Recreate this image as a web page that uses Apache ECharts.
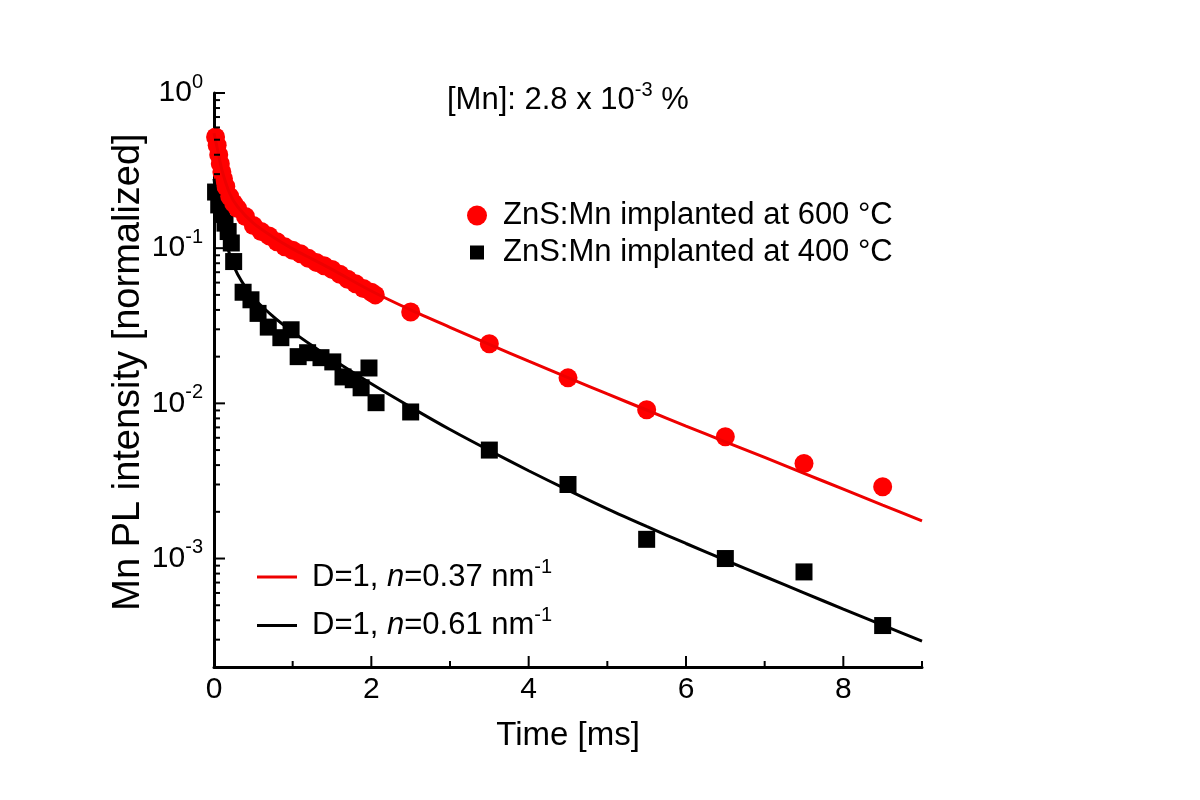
<!DOCTYPE html>
<html>
<head>
<meta charset="utf-8">
<script src="https://cdn.jsdelivr.net/npm/echarts/dist/echarts.min.js"></script>
<style>html,body{margin:0;padding:0;background:#fff}#c{width:1200px;height:800px}</style>
</head>
<body>
<div id="c"></div>
<script>
// ---- data ----
const redT = [0.02, 0.04, 0.06, 0.08, 0.10, 0.12, 0.15, 0.20, 0.25, 0.30, 0.40, 0.50, 0.60, 0.70, 0.80, 0.90, 1.00, 1.10, 1.20, 1.30, 1.40, 1.50, 1.60, 1.70, 1.80, 1.90, 2.00, 2.05, 2.5, 3.5, 4.5, 5.5, 6.5, 7.5, 8.5];
const redV = [0.52, 0.46, 0.40, 0.35, 0.31, 0.28, 0.25, 0.215, 0.195, 0.18, 0.16, 0.14, 0.128, 0.12, 0.11, 0.102, 0.097, 0.092, 0.086, 0.081, 0.077, 0.073, 0.068, 0.063, 0.059, 0.055, 0.052, 0.050, 0.0388, 0.0242, 0.0146, 0.0091, 0.0061, 0.0041, 0.0029];

const blackT = [0.02, 0.06, 0.10, 0.14, 0.18, 0.22, 0.25, 0.37, 0.47, 0.56, 0.69, 0.85, 0.98, 1.07, 1.19, 1.36, 1.51, 1.64, 1.77, 1.87, 1.97, 2.06, 2.5, 3.5, 4.5, 5.5, 6.5, 7.5, 8.5];
const blackV = [0.23, 0.19, 0.165, 0.145, 0.128, 0.108, 0.082, 0.052, 0.0465, 0.038, 0.031, 0.0265, 0.0298, 0.020, 0.0212, 0.0197, 0.0185, 0.0148, 0.0142, 0.0126, 0.0169, 0.0101, 0.0088, 0.0050, 0.0030, 0.00133, 0.0010, 0.00082, 0.00037];

const fitT = [0, 0.05, 0.1, 0.2, 0.3, 0.5, 0.75, 1, 1.25, 1.5, 2, 2.5, 3, 3.5, 4, 4.5, 5, 5.5, 6, 6.5, 7, 7.5, 8, 8.5, 9];
const redFit = [0.55, 0.42, 0.32, 0.225, 0.185, 0.145, 0.118, 0.099, 0.085, 0.073, 0.053, 0.040, 0.0309, 0.0240, 0.0187, 0.01466, 0.0115, 0.00906, 0.00714, 0.00565, 0.00448, 0.00354, 0.0028, 0.00221, 0.00175];
const blackFit = [0.28, 0.178, 0.135, 0.091, 0.068, 0.048, 0.0364, 0.0289, 0.0235, 0.0193, 0.01337, 0.00946, 0.00678, 0.00497, 0.00368, 0.00276, 0.00209, 0.00161, 0.00125, 0.000975, 0.000766, 0.000601, 0.000472, 0.000372, 0.000294];

const xMajorTicks = [0, 2, 4, 6, 8];
const xMinorTicks = [1, 3, 5, 7, 9];
const yMajorTicks = [0.001, 0.01, 0.1, 1];
const yMinorTicks = [0.0003, 0.0004, 0.0005, 0.0006, 0.0007, 0.0008, 0.0009,
  0.002, 0.003, 0.004, 0.005, 0.006, 0.007, 0.008, 0.009,
  0.02, 0.03, 0.04, 0.05, 0.06, 0.07, 0.08, 0.09,
  0.2, 0.3, 0.4, 0.5, 0.6, 0.7, 0.8, 0.9];

const nameRed = 'ZnS:Mn implanted at 600 °C';
const nameBlack = 'ZnS:Mn implanted at 400 °C';
const nameFitRed = 'D=1, n=0.37 nm-1';
const nameFitBlack = 'D=1, n=0.61 nm-1';

// ---- chart ----
const FONT = '"Liberation Sans", Arial, Helvetica, sans-serif';
const X_MIN = 0, X_MAX = 9, Y_MIN = 0.0002, Y_MAX = 1;

function zip(a, b) { return a.map((v, i) => [v, b[i]]); }

function tickSeries(vals, dir, len) {
  return {
    type: 'custom', silent: true, clip: false, z: 10,
    data: vals.map(v => dir === 'y' ? [X_MIN, v] : [v, Y_MIN]),
    renderItem: function (params, api) {
      const p = api.coord([api.value(0), api.value(1)]);
      const x2 = dir === 'y' ? p[0] + len : p[0];
      const y2 = dir === 'y' ? p[1] : p[1] - len;
      return { type: 'line', shape: { x1: p[0], y1: p[1], x2: x2, y2: y2 }, style: { stroke: '#000', lineWidth: 2 } };
    }
  };
}

const supRich = {
  a: { fontSize: 31, fontFamily: FONT, color: '#000', fontWeight: 'normal' },
  i: { fontSize: 31, fontFamily: FONT, color: '#000', fontStyle: 'italic', fontWeight: 'normal' },
  s: { fontSize: 20, fontFamily: FONT, color: '#000', fontWeight: 'normal', padding: [0, 0, 20, 0] }
};

const legendRich = {
  t: { fontSize: 31, fontFamily: FONT, color: '#000', padding: [0, 0, 0, 11] }
};
const fitRich = Object.assign({}, supRich, {
  a0: { fontSize: 31, fontFamily: FONT, color: '#000', fontWeight: 'normal', padding: [0, 0, 0, 10] }
});

const chart = echarts.init(document.getElementById('c'), null, { renderer: 'canvas' });
chart.setOption({
  backgroundColor: '#fff',
  animation: false,
  title: {
    text: '{a|[Mn]: 2.8 x 10}{s|-3}{a| %}',
    left: 447, top: 80, padding: 0,
    textStyle: { fontWeight: 'normal', rich: supRich }
  },
  grid: { left: 214, right: 278, top: 93, bottom: 133 },
  xAxis: {
    type: 'value', min: X_MIN, max: X_MAX, interval: 2,
    axisLine: { lineStyle: { color: '#000', width: 3 } },
    axisTick: { show: false },
    splitLine: { show: false },
    axisLabel: {
      color: '#000', fontSize: 30, fontFamily: FONT, margin: 8,
      formatter: v => (v % 2 === 0 ? String(v) : '')
    },
    name: 'Time [ms]', nameLocation: 'middle', nameGap: 52,
    nameTextStyle: { color: '#000', fontSize: 33, fontFamily: FONT }
  },
  yAxis: {
    type: 'log', logBase: 10, min: Y_MIN, max: Y_MAX,
    axisLine: { lineStyle: { color: '#000', width: 3 } },
    axisTick: { show: false },
    splitLine: { show: false },
    axisLabel: {
      margin: 11,
      formatter: function (v) {
        const e = Math.log10(v);
        const r = Math.round(e);
        if (Math.abs(e - r) > 1e-6) return '';
        return '{b|10}{s|' + r + '}';
      },
      rich: {
        b: { fontSize: 30, fontFamily: FONT, color: '#000' },
        s: { fontSize: 20, fontFamily: FONT, color: '#000', padding: [0, 0, 22, 0] }
      }
    }
  },
  legend: [
    {
      orient: 'vertical', left: 467, top: 200, padding: 0,
      itemWidth: 20, itemHeight: 20, itemGap: 6,
      data: [
        { name: nameRed, icon: 'circle' },
        { name: nameBlack, icon: 'path://M0,0L0,0ZM20,20L20,20ZM3,3L17,3L17,17L3,17Z' }
      ],
      formatter: n => '{t|' + n + '}',
      textStyle: { rich: legendRich }
    },
    {
      orient: 'vertical', left: 257, top: 557, padding: 0,
      itemWidth: 40, itemHeight: 3, itemGap: 13,
      data: [
        { name: nameFitRed, icon: 'rect' },
        { name: nameFitBlack, icon: 'rect' }
      ],
      formatter: function (n) {
        const val = n === nameFitRed ? '0.37' : '0.61';
        return '{a0|D=1, }{i|n}{a|=' + val + ' nm}{s|-1}';
      },
      textStyle: { rich: fitRich }
    }
  ],
  graphic: [
    {
      type: 'text', x: 129, y: 372, rotation: Math.PI / 2,
      style: {
        text: 'Mn PL intensity [normalized]', fill: '#000',
        font: '38px ' + FONT,
        textAlign: 'center', textVerticalAlign: 'middle',
        align: 'center', verticalAlign: 'middle'
      }
    }
  ],
  series: [
    {
      name: nameBlack, type: 'scatter', symbol: 'rect', symbolSize: 17,
      itemStyle: { color: '#000', opacity: 1 }, z: 2,
      data: zip(blackT, blackV)
    },
    {
      name: nameRed, type: 'scatter', symbol: 'circle', symbolSize: 19,
      itemStyle: { color: '#ff0000', opacity: 1 }, z: 3,
      data: zip(redT, redV)
    },
    {
      name: nameFitRed, type: 'line', showSymbol: false, smooth: 0.3,
      color: '#ee0000', itemStyle: { color: '#ee0000' },
      lineStyle: { color: '#ee0000', width: 3 }, z: 4,
      data: zip(fitT, redFit)
    },
    {
      name: nameFitBlack, type: 'line', showSymbol: false, smooth: 0.3,
      color: '#000', itemStyle: { color: '#000' },
      lineStyle: { color: '#000', width: 3 }, z: 4,
      data: zip(fitT, blackFit)
    },
    tickSeries(xMajorTicks, 'x', 11),
    tickSeries(xMinorTicks, 'x', 6),
    tickSeries(yMajorTicks, 'y', 11),
    tickSeries(yMinorTicks, 'y', 6)
  ]
});
</script>
</body>
</html>
